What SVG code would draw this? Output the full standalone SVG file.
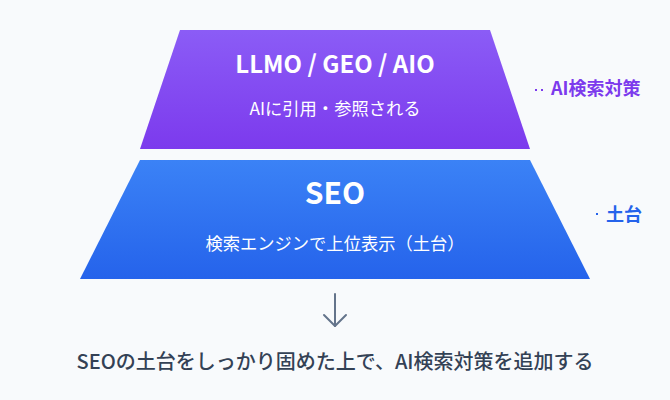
<svg xmlns="http://www.w3.org/2000/svg" width="670" height="400" viewBox="0 0 670 400">
<defs>
<linearGradient id="gp" x1="0" y1="0" x2="0" y2="1"><stop offset="0" stop-color="#8b5cf6"/><stop offset="1" stop-color="#7c3aed"/></linearGradient>
<linearGradient id="gb" x1="0" y1="0" x2="0" y2="1"><stop offset="0" stop-color="#3b82f6"/><stop offset="1" stop-color="#2563eb"/></linearGradient>
<style>
text{font-family:"Noto Sans CJK JP","Noto Sans",sans-serif;text-anchor:middle}
.t{fill:#fff;font-weight:700}
.s{fill:#fff;font-size:17.3px;font-weight:400}
.lab{font-size:18px;font-weight:700;text-anchor:start}
.lead{stroke-width:2;stroke-dasharray:2 4}
</style>
</defs>
<rect width="670" height="400" fill="#f8fafc"/>
<g id="llmo">
<polygon points="180,30 490,30 530,149 140,149" fill="url(#gp)"/>
<text class="t" x="335" y="73" font-size="24">LLMO / GEO / AIO</text>
<text class="s" x="335" y="115">AIに引用・参照される</text>
</g>
<g id="seo">
<polygon points="140,160 530,160 590,279 80,279" fill="url(#gb)"/>
<text class="t" x="335" y="204" font-size="30">SEO</text>
<text class="s" x="335" y="250">検索エンジンで上位表示（土台）</text>
</g>
<g id="label-ai">
<line class="lead" x1="535" y1="90" x2="545" y2="90" stroke="#7c3aed"/>
<text class="lab" x="551" y="95" fill="#7c3aed">AI検索対策</text>
</g>
<g id="label-seo">
<line class="lead" x1="596" y1="214" x2="600" y2="214" stroke="#2563eb"/>
<text class="lab" x="606" y="221" fill="#2563eb">土台</text>
</g>
<g id="connectors" fill="none" stroke="#64748b" stroke-width="2" stroke-linecap="round" stroke-linejoin="round">
<line x1="335" y1="294" x2="335" y2="326"/>
<polyline points="324,315 335,326 346,315"/>
</g>
<g id="summary">
<text x="335" y="369" font-size="20" font-weight="500" fill="#334155">SEOの土台をしっかり固めた上で、AI検索対策を追加する</text>
</g>
</svg>
